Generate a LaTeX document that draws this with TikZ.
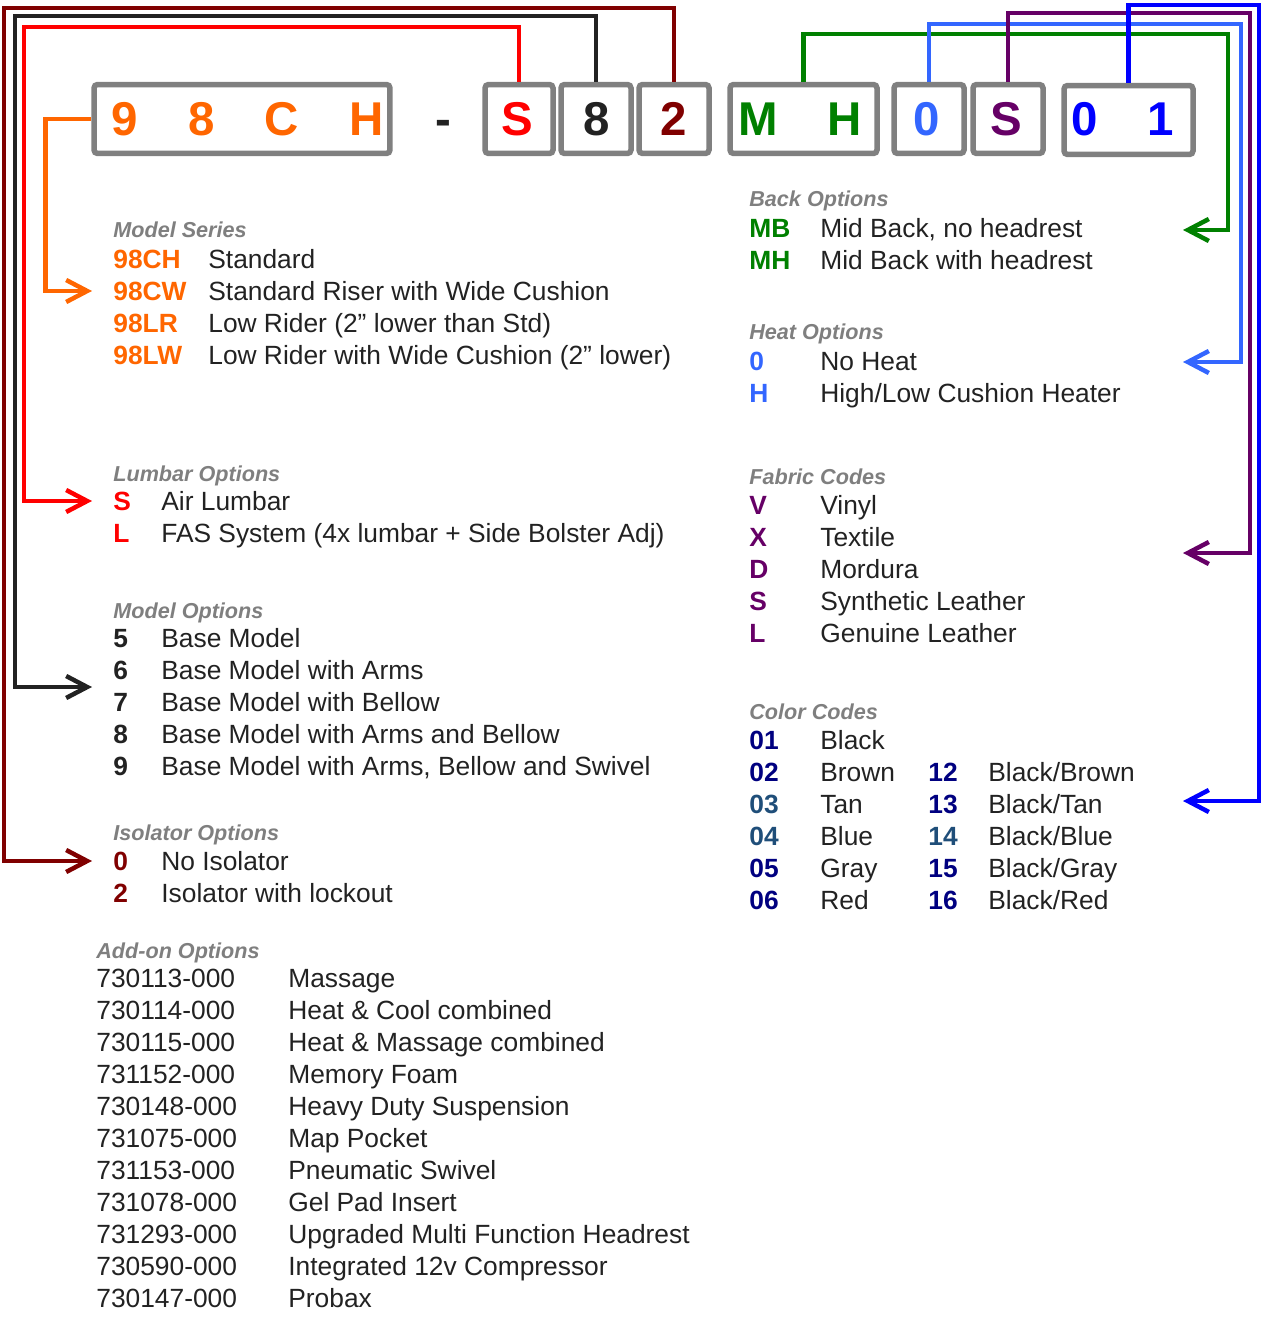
\documentclass[tikz,border=0pt]{standalone}
\usepackage{fontspec}
\setmainfont{Liberation Sans}
\usetikzlibrary{arrows.meta, positioning}

\definecolor{serOrange}{HTML}{FF6600}
\definecolor{lumRed}{HTML}{FF0000}
\definecolor{isoRed}{HTML}{800000}
\definecolor{backGreen}{HTML}{008000}
\definecolor{heatBlue}{HTML}{3366FF}
\definecolor{fabPurple}{HTML}{660066}
\definecolor{colBlue}{HTML}{0000FF}
\definecolor{colNavy}{HTML}{000080}
\definecolor{colSteel}{HTML}{1F4E79}
\definecolor{boxGray}{HTML}{808080}
\definecolor{headGray}{HTML}{7F7F7F}
\definecolor{txtBlack}{HTML}{222222}

\begin{document}
\begin{tikzpicture}[
		x=0.02cm, y=-0.02cm,
		% cajas del codigo de pedido
		codebox/.style = {draw=boxGray, line width=0.11cm, rounded corners=2pt, minimum height=1.38cm, inner sep=0pt},
		boxchar/.style = {anchor=base, inner sep=0pt, font=\fontsize{27}{30}\selectfont\bfseries},
		head/.style = {anchor=base west, inner sep=0pt, text=headGray, font=\fontsize{12.3}{14}\selectfont\bfseries\itshape},
		code/.style = {anchor=base west, inner sep=0pt, font=\fontsize{15}{18}\selectfont\bfseries},
		desc/.style = {anchor=base west, inner sep=0pt, text=txtBlack, font=\fontsize{15}{18}\selectfont},
		link/.style = {line width=0.09cm},
		>={Straight Barb[length=0.42cm, width=0.44cm]}
		]
		\useasboundingbox (0,0) rectangle (1264,1317);
		
		% --- CAJAS ---
		\node [codebox, minimum width=5.92cm] (b-ser) at (242,119) {};
		\node [codebox, minimum width=1.36cm] (b-lum) at (519,119) {};
		\node [codebox, minimum width=1.40cm] (b-mod) at (596,119) {};
		\node [codebox, minimum width=1.40cm] (b-iso) at (674,119) {};
		\node [codebox, minimum width=2.94cm] (b-back) at (803.5,119) {};
		\node [codebox, minimum width=1.40cm] (b-heat) at (929,119) {};
		\node [codebox, minimum width=1.40cm] (b-fab) at (1008,119) {};
		\node [codebox, minimum width=2.58cm] (b-col) at (1128.5,120) {};
		
		\foreach \x/\ch/\col [count=\i] in {125/9/serOrange, 202/8/serOrange, 282/C/serOrange, 367/H/serOrange,
			443/-/txtBlack, 517/S/lumRed, 597/8/txtBlack, 674/2/isoRed, 758/M/backGreen, 845/H/backGreen,
			927/0/heatBlue, 1006/S/fabPurple, 1085/0/colBlue, 1161/1/colBlue}
		\node [boxchar, text=\col] (ch\i) at (\x,136) {\ch};
		
		% --- COLUMNA IZQUIERDA ---
		\node [head] (ms-head) at (113,238) {Model Series};
		\foreach \c/\d [count=\i from 0] in {98CH/Standard, 98CW/Standard Riser with Wide Cushion,
			98LR/{Low Rider (2” lower than Std)}, 98LW/{Low Rider with Wide Cushion (2” lower)}}
		{
			\node [code, text=serOrange] (ms-c\i) at (113,268.5+32*\i) {\c};
			\node [desc] (ms-d\i) at (208,268.5+32*\i) {\d};
		}
		
		\node [head] (lum-head) at (113,481) {Lumbar Options};
		\foreach \c/\d [count=\i from 0] in {S/Air Lumbar, L/FAS System (4x lumbar + Side Bolster Adj)}
		{
			\node [code, text=lumRed] (lum-c\i) at (113,510.5+32*\i) {\c};
			\node [desc] (lum-d\i) at (161,510.5+32*\i) {\d};
		}
		
		\node [head] (mod-head) at (113,618) {Model Options};
		\foreach \c/\d [count=\i from 0] in {5/Base Model, 6/Base Model with Arms, 7/Base Model with Bellow,
			8/Base Model with Arms and Bellow, 9/{Base Model with Arms, Bellow and Swivel}}
		{
			\node [code, text=txtBlack] (mod-c\i) at (113,647.5+32*\i) {\c};
			\node [desc] (mod-d\i) at (161,647.5+32*\i) {\d};
		}
		
		\node [head] (iso-head) at (113,840) {Isolator Options};
		\foreach \c/\d [count=\i from 0] in {0/No Isolator, 2/Isolator with lockout}
		{
			\node [code, text=isoRed] (iso-c\i) at (113,870.5+32*\i) {\c};
			\node [desc] (iso-d\i) at (161,870.5+32*\i) {\d};
		}
		
		\node [head] (add-head) at (96,958) {Add-on Options};
		\foreach \c/\d [count=\i from 0] in {730113-000/Massage, 730114-000/Heat \& Cool combined,
			730115-000/Heat \& Massage combined, 731152-000/Memory Foam, 730148-000/Heavy Duty Suspension,
			731075-000/Map Pocket, 731153-000/Pneumatic Swivel, 731078-000/Gel Pad Insert,
			731293-000/Upgraded Multi Function Headrest, 730590-000/Integrated 12v Compressor, 730147-000/Probax}
		{
			\node [desc] (add-c\i) at (96,987.5+32*\i) {\c};
			\node [desc] (add-d\i) at (288,987.5+32*\i) {\d};
		}
		
		% --- COLUMNA DERECHA ---
		\node [head] (back-head) at (749,207) {Back Options};
		\foreach \c/\d [count=\i from 0] in {MB/{Mid Back, no headrest}, MH/Mid Back with headrest}
		{
			\node [code, text=backGreen] (back-c\i) at (749,237.5+32*\i) {\c};
			\node [desc] (back-d\i) at (820,237.5+32*\i) {\d};
		}
		
		\node [head] (heat-head) at (749,340) {Heat Options};
		\foreach \c/\d [count=\i from 0] in {0/No Heat, H/{High/Low Cushion Heater}}
		{
			\node [code, text=heatBlue] (heat-c\i) at (749,370.5+32*\i) {\c};
			\node [desc] (heat-d\i) at (820,370.5+32*\i) {\d};
		}
		
		\node [head] (fab-head) at (749,484) {Fabric Codes};
		\foreach \c/\d [count=\i from 0] in {V/Vinyl, X/Textile, D/Mordura, S/Synthetic Leather, L/Genuine Leather}
		{
			\node [code, text=fabPurple] (fab-c\i) at (749,514.5+32*\i) {\c};
			\node [desc] (fab-d\i) at (820,514.5+32*\i) {\d};
		}
		
		\node [head] (col-head) at (749,719) {Color Codes};
		\foreach \c/\col/\d [count=\i from 0] in {01/colNavy/Black, 02/colNavy/Brown, 03/colSteel/Tan,
			04/colSteel/Blue, 05/colNavy/Gray, 06/colNavy/Red}
		{
			\node [code, text=\col] (col-c\i) at (749,749.5+32*\i) {\c};
			\node [desc] (col-d\i) at (820,749.5+32*\i) {\d};
		}
		\foreach \c/\col/\d [count=\i from 1] in {12/colNavy/{Black/Brown}, 13/colNavy/{Black/Tan},
			14/colSteel/{Black/Blue}, 15/colNavy/{Black/Gray}, 16/colNavy/{Black/Red}}
		{
			\node [code, text=\col] (col-e\i) at (928,749.5+32*\i) {\c};
			\node [desc] (col-f\i) at (988,749.5+32*\i) {\d};
		}
		
		% --- PUNTOS DE LLEGADA ---
		\coordinate (ser-in) at (92,291);
		\coordinate (lum-in) at (92,501);
		\coordinate (mod-in) at (92,687);
		\coordinate (iso-in) at (92,861);
		\coordinate (back-in) at (1183,230);
		\coordinate (heat-in) at (1183,362);
		\coordinate (fab-in) at (1183,553);
		\coordinate (col-in) at (1183,801);
		
		% --- CONEXIONES ---
		\draw [link, serOrange, ->] (b-ser.west) -- ++(-46,0) |- (ser-in);
		\draw [link, lumRed, ->] (b-lum.north) |- (24,27) |- (lum-in);
		\draw [link, txtBlack, ->] (b-mod.north) |- (15,16) |- (mod-in);
		\draw [link, isoRed, ->] (b-iso.north) |- (4,8) |- (iso-in);
		\draw [link, backGreen, ->] (b-back.north) |- (1228,34) |- (back-in);
		\draw [link, heatBlue, ->] (b-heat.north) |- (1241,24) |- (heat-in);
		\draw [link, fabPurple, ->] (b-fab.north) |- (1250,13) |- (fab-in);
		\draw [link, colBlue, ->] (b-col.north) |- (1259,5) |- (col-in);
		
	\end{tikzpicture}
\end{document}
